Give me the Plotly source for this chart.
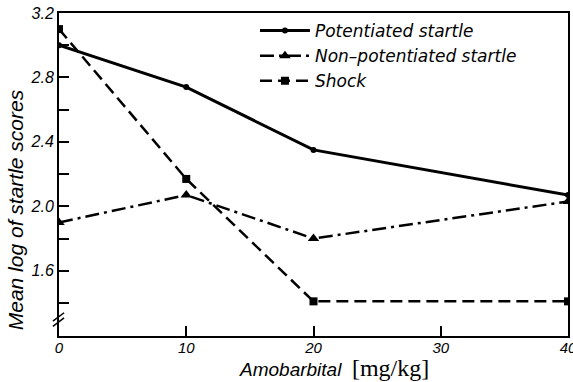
import plotly.graph_objects as go

doses = [0, 10, 20, 40]
potentiated = [3.00, 2.74, 2.35, 2.07]
non_potentiated = [1.90, 2.07, 1.80, 2.03]
shock = [3.10, 2.17, 1.41, 1.41]

x_ticks = [0, 10, 20, 30, 40]
y_major = [1.6, 2.0, 2.4, 2.8, 3.2]
y_minor = [1.4, 1.8, 2.2, 2.6, 3.0]

FONT = "Liberation Sans"
fig = go.Figure()
fig.add_trace(go.Scatter(x=doses, y=potentiated, name="Potentiated startle",
                         mode="lines+markers",
                         line=dict(color="black", width=3, dash="solid"),
                         marker=dict(symbol="circle", size=6, color="black")))
fig.add_trace(go.Scatter(x=doses, y=non_potentiated, name="Non\u2013potentiated startle",
                         mode="lines+markers",
                         line=dict(color="black", width=2.5, dash="14px,5px,3px,5px"),
                         marker=dict(symbol="triangle-up", size=10, color="black")))
fig.add_trace(go.Scatter(x=doses, y=shock, name="Shock",
                         mode="lines+markers",
                         line=dict(color="black", width=2.5, dash="12px,6px"),
                         marker=dict(symbol="square", size=8, color="black")))

fig.update_xaxes(range=[0, 40], tickvals=x_ticks, ticktext=[str(v) for v in x_ticks],
                 ticks="inside", ticklen=10, tickwidth=1.5, tickcolor="black",
                 showline=True, linecolor="black", linewidth=2, mirror=True,
                 showgrid=False, zeroline=False, automargin=False, ticklabelstandoff=-3,
                 ticklabeloverflow="allow",
                 tickfont=dict(family=FONT, size=15, color="black", style="italic"))
fig.update_yaxes(range=[1.195, 3.2], tickvals=y_major, ticktext=[f"{v:.1f}" for v in y_major],
                 ticks="inside", ticklen=10, tickwidth=1.5, tickcolor="black",
                 minor=dict(tickvals=y_minor, ticks="inside", ticklen=10, tickwidth=1.5,
                            tickcolor="black", showgrid=False),
                 showline=True, linecolor="black", linewidth=2, mirror=True,
                 showgrid=False, zeroline=False, automargin=False,
                 ticklabeloverflow="allow",
                 tickfont=dict(family=FONT, size=16, color="black", style="italic"))

# axis break marks
for yc in (0.043, 0.059):
    fig.add_shape(type="line", xref="paper", yref="paper",
                  x0=-0.012, x1=0.010, y0=yc - 0.013, y1=yc + 0.013,
                  line=dict(color="black", width=1.5))

fig.add_annotation(text="<i>Amobarbital</i>  <span style='font-family:Liberation Serif;font-size:24px'>[mg/kg]</span>",
                   xref="paper", yref="paper", x=0.54, y=-0.1, yanchor="middle",
                   showarrow=False, font=dict(family=FONT, size=19, color="black"))
fig.add_annotation(text="<i>Mean log of startle scores</i>", textangle=-90,
                   xref="paper", yref="paper", x=-0.086, xanchor="center",
                   y=0.39, yanchor="middle",
                   showarrow=False, font=dict(family=FONT, size=21, color="black"))

fig.update_layout(width=573, height=382,
                  margin=dict(l=59, r=5, t=13, b=46),
                  paper_bgcolor="white", plot_bgcolor="white",
                  font=dict(family=FONT, color="black"),
                  legend=dict(x=0.385, y=1.0, xanchor="left", yanchor="top",
                              bgcolor="rgba(0,0,0,0)", itemwidth=50, tracegroupgap=0,
                              font=dict(family="DejaVu Sans", size=17, color="black", style="italic")),
                  showlegend=True)

fig.write_html("out.html", config={"displayModeBar": False},
               post_script="document.body.style.margin='0';")
